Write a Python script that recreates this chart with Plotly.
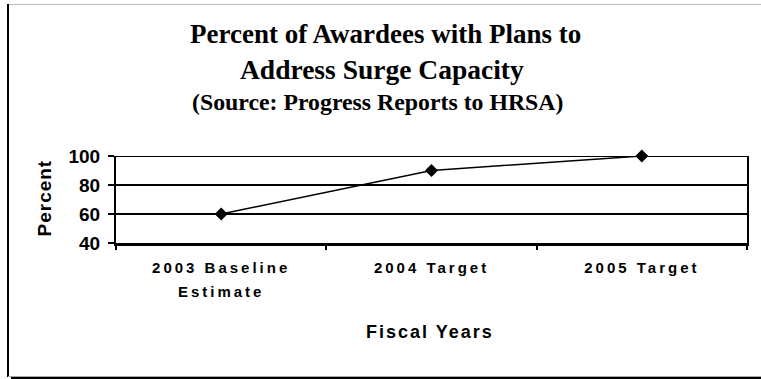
import plotly.graph_objects as go

# ---- data ----
fiscal_years = ["2003 Baseline<br>Estimate", "2004 Target", "2005 Target"]
percent_with_plans = [60, 90, 100]
percent_ticks = [40, 60, 80, 100]

title_line_1 = "Percent of Awardees with Plans to"
title_line_2 = "Address Surge Capacity"
title_source = "(Source: Progress Reports to HRSA)"
x_title = "Fiscal Years"
y_title = "Percent"

# ---- page geometry (pixels) ----
W, H = 761, 379
L, R, T, B = 116, 14, 156, 136
PW = W - L - R
PH = H - T - B


def px_x(x):
    return (x - L) / PW


def px_y(y):
    return (H - B - y) / PH


SANS = "Arial, 'Liberation Sans', sans-serif"
SERIF = "'Times New Roman', 'Liberation Serif', serif"

fig = go.Figure()
fig.add_trace(
    go.Scatter(
        x=fiscal_years,
        y=percent_with_plans,
        mode="lines+markers",
        line=dict(color="black", width=1.5),
        marker=dict(symbol="diamond", size=10, color="black"),
        cliponaxis=False,
        showlegend=False,
        hoverinfo="x+y",
    )
)

fig.update_xaxes(
    type="category",
    range=[-0.5, 2.5],
    tickson="boundaries",
    ticks="outside",
    ticklen=4,
    tickwidth=2,
    tickcolor="black",
    showline=True,
    linewidth=3,
    linecolor="black",
    showgrid=False,
    tickfont=dict(family=SANS, size=15, color="black", weight="bold"),
    ticklabelstandoff=9,
    fixedrange=True,
)
fig.update_yaxes(
    range=[40, 100],
    tickvals=percent_ticks,
    ticks="outside",
    ticklen=6,
    tickwidth=2,
    tickcolor="black",
    showline=True,
    linewidth=2,
    linecolor="black",
    mirror=True,
    showgrid=True,
    gridwidth=2,
    gridcolor="black",
    zeroline=False,
    tickfont=dict(family=SANS, size=19, color="black", weight="bold"),
    ticklabelstandoff=4,
    fixedrange=True,
)

annotations = [
    dict(text=title_line_1, x=px_x(385), y=px_y(34), font=dict(family=SERIF, size=27, weight="bold")),
    dict(text=title_line_2, x=px_x(381.5), y=px_y(69), font=dict(family=SERIF, size=27.5, weight="bold")),
    dict(text=title_source, x=px_x(377.5), y=px_y(101.5), font=dict(family=SERIF, size=23.8, weight="bold")),
    dict(text=x_title, x=px_x(430), y=px_y(331.5), font=dict(family=SANS, size=18, weight="bold")),
    dict(text=y_title, x=px_x(44.5), y=px_y(198.5), textangle=-90,
         font=dict(family=SANS, size=19, weight="bold")),
]
for a in annotations:
    a.update(xref="paper", yref="paper", xanchor="center", yanchor="middle", showarrow=False)
    a["font"]["color"] = "black"

# top gridline (the edge gridline is dropped by the axis) and the outer frame
shapes = [
    dict(type="line", xref="paper", yref="y", x0=0, x1=1, y0=percent_ticks[-1], y1=percent_ticks[-1],
         line=dict(color="black", width=2), layer="below"),
    dict(type="line", xref="paper", yref="paper", x0=px_x(8), x1=px_x(761), y0=px_y(4.5), y1=px_y(4.5),
         line=dict(color="#bdbdbd", width=1)),
    dict(type="line", xref="paper", yref="paper", x0=px_x(8), x1=px_x(8), y0=px_y(4), y1=px_y(377),
         line=dict(color="black", width=2)),
    dict(type="line", xref="paper", yref="paper", x0=px_x(8), x1=px_x(761), y0=px_y(376.5), y1=px_y(376.5),
         line=dict(color="#a8a8a8", width=1)),
    dict(type="line", xref="paper", yref="paper", x0=px_x(11), x1=px_x(761), y0=px_y(378), y1=px_y(378),
         line=dict(color="black", width=2)),
]

fig.update_layout(
    width=W,
    height=H,
    margin=dict(l=L, r=R, t=T, b=B, pad=0),
    paper_bgcolor="white",
    plot_bgcolor="white",
    annotations=annotations,
    shapes=shapes,
    showlegend=False,
)

# widen the tracking of the sans-serif labels and open up the two-line tick label
tracking = """
var gd = document.getElementById('{plot_id}');
function track() {
  gd.querySelectorAll('.xtick text').forEach(function (t) {
    t.style.letterSpacing = '3px';
    t.querySelectorAll('tspan.line').forEach(function (ln, i) {
      if (i > 0) ln.setAttribute('dy', (1.6 * i) + 'em');
    });
  });
  gd.querySelectorAll('.annotation-text').forEach(function (t) {
    var s = t.textContent;
    if (s === 'Fiscal Years') t.style.letterSpacing = '2px';
    if (s === 'Percent') t.style.letterSpacing = '1px';
  });
}
track();
if (gd.on) gd.on('plotly_afterplot', track);
"""

fig.write_html("out.html", config=dict(displayModeBar=False, staticPlot=True), post_script=tracking)
